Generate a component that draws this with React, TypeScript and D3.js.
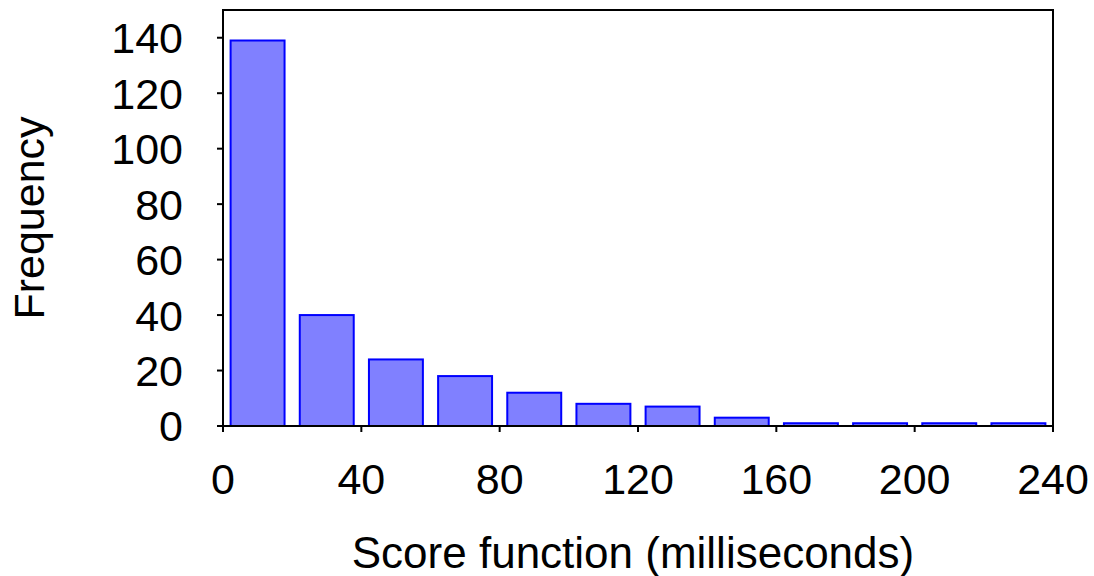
import React from "react";
import * as d3 from "d3";

const binStarts = [0, 20, 40, 60, 80, 100, 120, 140, 160, 180, 200, 220];
const binWidth = 20;
const frequencies = [139, 40, 24, 18, 12, 8, 7, 3, 1, 1, 1, 1];
const xTicks = [0, 40, 80, 120, 160, 200, 240];
const yTicks = [0, 20, 40, 60, 80, 100, 120, 140];
const xLabel = "Score function (milliseconds)";
const yLabel = "Frequency";

const W = 1094;
const H = 576;
const left = 223;
const right = 1053;
const top = 10;
const bottom = 426;
const font = "'Liberation Sans', Arial, sans-serif";

export default function App() {
  const x = d3.scaleLinear().domain([0, 240]).range([left, right]);
  const y = d3.scaleLinear().domain([0, 150]).range([bottom, top]);
  const frac = 0.78;
  return (
    <svg
      width={W}
      height={H}
      style={{ position: "absolute", left: 0, top: 0, display: "block", background: "#fff" }}
    >
      {binStarts.map((b, i) => {
        const x0 = x(b);
        const x1 = x(b + binWidth);
        const w = (x1 - x0) * frac;
        const cx = (x0 + x1) / 2;
        return (
          <rect
            key={i}
            x={cx - w / 2}
            y={y(frequencies[i])}
            width={w}
            height={bottom - y(frequencies[i])}
            fill="#8080ff"
            stroke="#0000ff"
            strokeWidth={2}
          />
        );
      })}
      <rect
        x={left}
        y={top}
        width={right - left}
        height={bottom - top}
        fill="none"
        stroke="#000"
        strokeWidth={2}
      />
      {yTicks.map((t) => (
        <g key={"y" + t}>
          <line x1={left - 6} x2={left} y1={y(t)} y2={y(t)} stroke="#000" strokeWidth={2} />
          <text
            x={left - 40}
            y={y(t)}
            dy="0.36em"
            textAnchor="end"
            fontFamily={font}
            fontSize={43}
            fill="#000"
          >
            {t}
          </text>
        </g>
      ))}
      {xTicks.map((t) => (
        <g key={"x" + t}>
          <line x1={x(t)} x2={x(t)} y1={bottom} y2={bottom + 6} stroke="#000" strokeWidth={2} />
          <text
            x={x(t)}
            y={bottom + 68}
            textAnchor="middle"
            fontFamily={font}
            fontSize={43}
            fill="#000"
          >
            {t}
          </text>
        </g>
      ))}
      <text
        x={633}
        y={568}
        textAnchor="middle"
        fontFamily={font}
        fontSize={44}
        fill="#000"
      >
        {xLabel}
      </text>
      <text
        transform={`translate(44, ${(top + bottom) / 2}) rotate(-90)`}
        textAnchor="middle"
        fontFamily={font}
        fontSize={43}
        fill="#000"
      >
        {yLabel}
      </text>
    </svg>
  );
}
